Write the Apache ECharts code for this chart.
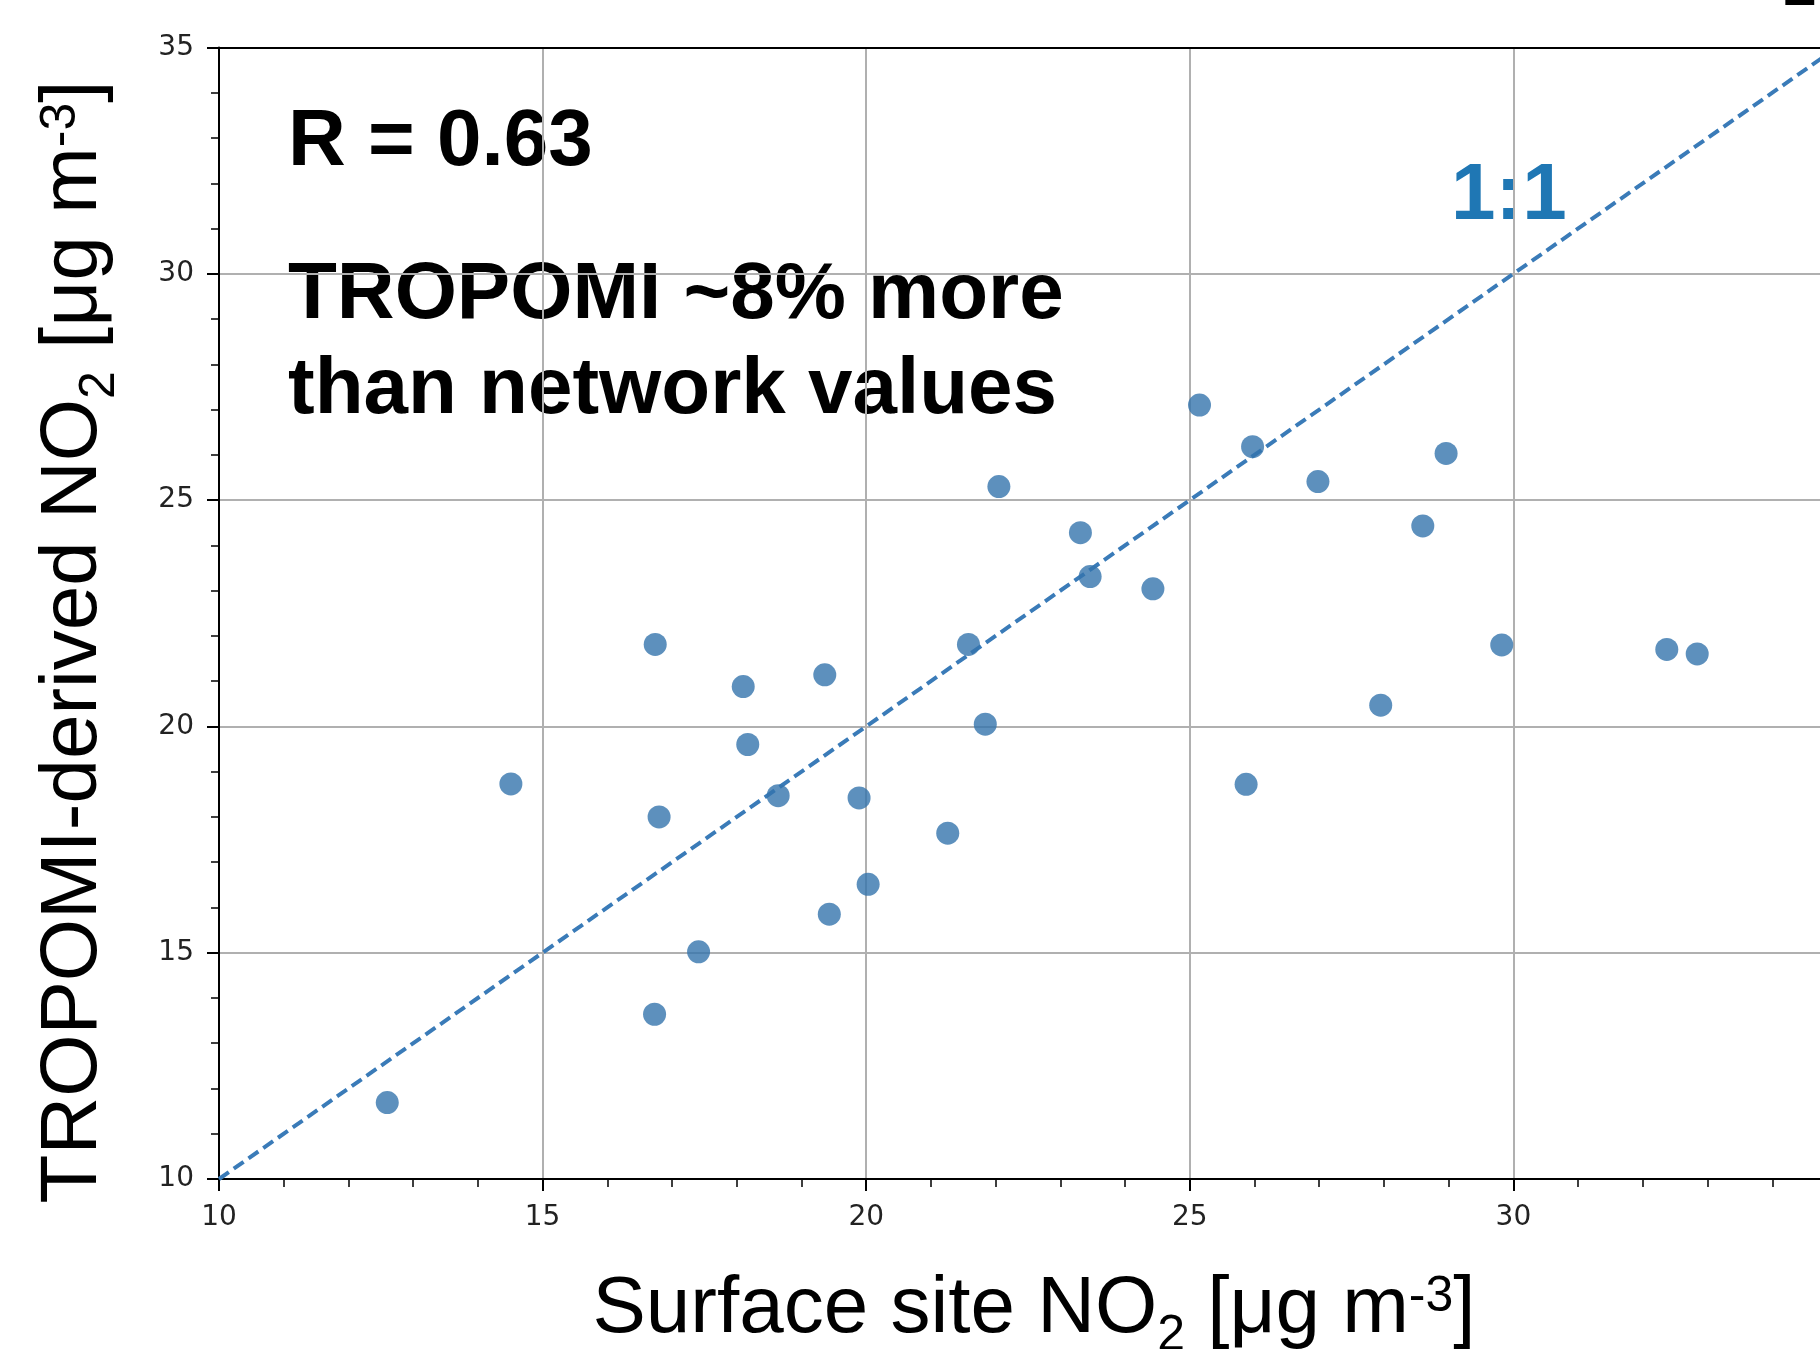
<!DOCTYPE html>
<html>
<head>
<meta charset="utf-8">
<script src="https://cdn.jsdelivr.net/npm/echarts@6/dist/echarts.min.js"></script>
<style>
  html, body { margin: 0; padding: 0; background: #fff; }
  #main { width: 1820px; height: 1349px; }
</style>
</head>
<body>
<div id="main"></div>
<script>
// surface site NO2 (x) vs TROPOMI-derived NO2 (y), ug m-3
var surfaceNO2 = [12.60, 14.51, 16.74, 16.80, 16.73, 17.41, 18.10, 18.17, 18.64, 19.36,
                  19.43, 19.89, 20.03, 21.26, 21.58, 21.84, 22.05, 23.31, 23.46, 24.43,
                  25.15, 25.87, 25.97, 26.98, 27.95, 28.60, 28.96, 29.82, 32.37, 32.84];
var tropomiNO2 = [11.69, 18.73, 21.81, 18.00, 13.64, 15.02, 20.88, 19.60, 18.47, 21.14,
                  15.85, 18.42, 16.51, 17.64, 21.81, 20.05, 25.30, 24.28, 23.31, 23.04,
                  27.10, 18.72, 26.18, 25.41, 20.47, 24.43, 26.03, 21.80, 21.70, 21.60];
var oneToOne = [10, 35];          // ends of the 1:1 line
var axisMin = 10, axisMax = 35, axisStep = 5;

var pts = [];
for (var i = 0; i < surfaceNO2.length; i++) {
    pts.push([surfaceNO2[i], tropomiNO2[i]]);
}
var lineData = oneToOne.map(function (v) { return [v, v]; });

var myChart = echarts.init(document.getElementById('main'));

var titleRich = {
    sub: { font: '50px "Liberation Sans"', fontSize: 50, padding: [52, 0, 0, 0] },
    sup: { font: '50px "Liberation Sans"', fontSize: 50, padding: [0, 0, 26, 0] }
};

function axisCommon() {
    return {
        type: 'value',
        min: axisMin,
        max: axisMax,
        interval: axisStep,
        axisLine: { show: true, onZero: false, lineStyle: { color: '#000', width: 2 } },
        axisTick: { show: true, length: 12, lineStyle: { color: '#000', width: 2 } },
        minorTick: { show: true, splitNumber: 5, length: 8, lineStyle: { color: '#000', width: 1.5 } },
        splitLine: { show: true, lineStyle: { color: '#b0b0b0', width: 2 } },
        axisLabel: {
            color: '#222',
            fontFamily: 'DejaVu Sans',
            fontSize: 28,
            showMinLabel: true,
            showMaxLabel: true
        }
    };
}

var xAx = axisCommon();
xAx.axisLabel.margin = 25;
var yAx = axisCommon();
yAx.axisLabel.margin = 25;

// top frame line, black like the other spines
var xTop = {
    type: 'value', position: 'top', min: axisMin, max: axisMax,
    axisLine: { show: true, onZero: false, lineStyle: { color: '#000', width: 2 } },
    axisTick: { show: false }, axisLabel: { show: false }, splitLine: { show: false }
};

var option = {
    backgroundColor: '#fff',
    animation: false,
    grid: {
        left: 219,
        right: -17,
        top: 47.5,
        bottom: 170,
        containLabel: false,
        outerBoundsMode: 'none'
    },
    xAxis: [xAx, xTop],
    yAxis: yAx,
    series: [
        {
            type: 'line',
            data: lineData,
            symbol: 'none',
            lineStyle: { color: '#3a7bb8', width: 4, type: [12, 6] },
            z: 2
        },
        {
            type: 'scatter',
            data: pts,
            symbolSize: 23,
            itemStyle: { color: '#3474ad' },
            z: 3
        }
    ],
    graphic: [
        {
            type: 'text', x: 288, y: 143,
            style: { text: 'R = 0.63', font: 'bold 80px "Liberation Sans"', fill: '#000', align: 'left', verticalAlign: 'middle' }
        },
        {
            type: 'text', x: 288, y: 296,
            style: { text: 'TROPOMI ~8% more', font: 'bold 80px "Liberation Sans"', fill: '#000', align: 'left', verticalAlign: 'middle' }
        },
        {
            type: 'text', x: 288, y: 391,
            style: { text: 'than network values', font: 'bold 80px "Liberation Sans"', fill: '#000', align: 'left', verticalAlign: 'middle' }
        },
        {
            type: 'text', x: 1451, y: 197,
            style: { text: '1:1', font: 'bold 80px "Liberation Sans"', fill: '#1f77b4', align: 'left', verticalAlign: 'middle' }
        },
        {
            type: 'text', x: 1800, y: 18,
            style: { text: '2', font: 'bold 60px "Liberation Sans"', fill: '#000', align: 'center', verticalAlign: 'bottom' }
        },
        {
            type: 'text', x: 1034, y: 1310,
            style: {
                text: 'Surface site NO{sub|2} [μg m{sup|-3}]',
                font: '80px "Liberation Sans"', fill: '#000',
                align: 'center', verticalAlign: 'middle',
                rich: titleRich
            }
        },
        {
            type: 'text', x: 74, y: 642, rotation: Math.PI / 2,
            style: {
                text: 'TROPOMI-derived NO{sub|2} [μg m{sup|-3}]',
                font: '80px "Liberation Sans"', fill: '#000',
                align: 'center', verticalAlign: 'middle',
                rich: titleRich
            }
        }
    ]
};
myChart.setOption(option);
</script>
</body>
</html>
